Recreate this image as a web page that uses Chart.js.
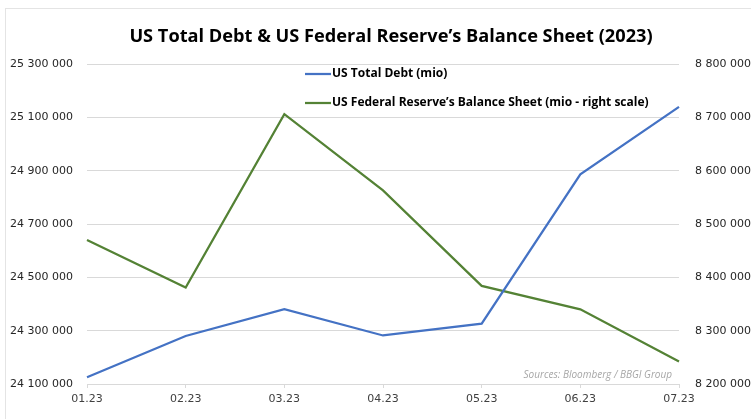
<!DOCTYPE html>
<html lang="en">
    <head>
        <meta charset="utf-8" />
        <title>US Total Debt & Fed Balance Sheet 2023</title>
        <style>
            html,
            body {
                margin: 0;
                padding: 0;
                background: #ffffff;
            }
            .wrap {
                position: relative;
                width: 751px;
                height: 419px;
                overflow: hidden;
            }
            .frame {
                position: absolute;
                left: 5px;
                top: 8px;
                right: -2px;
                bottom: -2px;
                border-left: 1px solid #e4e4e4;
                border-top: 1px solid #e4e4e4;
            }
            canvas {
                position: absolute;
                left: 0;
                top: 0;
            }
        </style>
    </head>
    <body>
        <div class="wrap">
            <div class="frame"></div>
            <canvas id="debtChart" width="751" height="419"></canvas>
        </div>

        <script src="https://cdn.jsdelivr.net/npm/chart.js"></script>
        <script>
            const months = ["01.23", "02.23", "03.23", "04.23", "05.23", "06.23", "07.23"];
            const totalDebt = [24125000, 24280000, 24381000, 24282000, 24326000, 24886000, 25139000];
            const fedBalance = [8470000, 8381000, 8706000, 8563000, 8384000, 8340000, 8242000];
            const leftTicks = [24100000, 25300000, 200000];
            const rightTicks = [8200000, 8800000, 100000];

            const titleText = "US Total Debt & US Federal Reserve\u2019s Balance Sheet (2023)";
            const sourceText = "Sources: Bloomberg / BBGI Group";

            const fmt = (v) =>
                Math.round(v).toString().replace(/\B(?=(\d{3})+(?!\d))/g, " ");

            const tickFont = { family: "DejaVu Sans", size: 11 };

            // title, in-plot legend and source note
            const overlay = {
                id: "overlay",
                afterDraw(chart) {
                    const ctx = chart.ctx;
                    ctx.save();
                    ctx.fillStyle = "#000000";
                    ctx.textBaseline = "middle";
                    ctx.textAlign = "center";
                    ctx.font = "bold 18.2px 'Open Sans'";
                    ctx.fillText(titleText, 391, 37);

                    ctx.textAlign = "left";
                    ctx.font = "bold 12px 'Open Sans'";
                    const rows = [74, 103];
                    chart.data.datasets.forEach((ds, i) => {
                        ctx.strokeStyle = ds.borderColor;
                        ctx.lineWidth = 2.25;
                        ctx.beginPath();
                        ctx.moveTo(305, rows[i]);
                        ctx.lineTo(331, rows[i]);
                        ctx.stroke();
                        ctx.fillStyle = "#000000";
                        ctx.fillText(ds.label, 332, rows[i]);
                    });

                    ctx.textAlign = "right";
                    ctx.font = "italic 10px 'Open Sans'";
                    ctx.fillStyle = "#a6a6a6";
                    ctx.fillText(sourceText, 672, 375);
                    ctx.restore();
                },
            };

            new Chart(document.getElementById("debtChart"), {
                type: "line",
                data: {
                    labels: months,
                    datasets: [
                        {
                            label: "US Total Debt (mio)",
                            data: totalDebt,
                            borderColor: "#4472c4",
                            backgroundColor: "#4472c4",
                            borderWidth: 2.25,
                            pointRadius: 0,
                            tension: 0,
                            yAxisID: "y",
                        },
                        {
                            label: "US Federal Reserve\u2019s Balance Sheet (mio - right scale)",
                            data: fedBalance,
                            borderColor: "#548235",
                            backgroundColor: "#548235",
                            borderWidth: 2.25,
                            pointRadius: 0,
                            tension: 0,
                            yAxisID: "y1",
                        },
                    ],
                },
                options: {
                    responsive: false,
                    animation: false,
                    devicePixelRatio: 1,
                    layout: { padding: { top: 64, left: 0, right: 0, bottom: 0 } },
                    plugins: {
                        legend: { display: false },
                        title: { display: false },
                        tooltip: { enabled: false },
                    },
                    scales: {
                        x: {
                            offset: false,
                            grid: {
                                drawOnChartArea: false,
                                color: "#d9d9d9",
                                tickLength: 4,
                            },
                            border: { color: "#d9d9d9" },
                            ticks: {
                                font: tickFont,
                                color: "#404040",
                                padding: 5,
                                maxRotation: 0,
                                autoSkip: false,
                            },
                            afterFit(scale) {
                                scale.height = 35;
                            },
                        },
                        y: {
                            position: "left",
                            min: leftTicks[0],
                            max: leftTicks[1],
                            grid: { color: "#d9d9d9", drawTicks: false },
                            border: { display: false },
                            ticks: {
                                stepSize: leftTicks[2],
                                font: tickFont,
                                color: "#262626",
                                padding: 14,
                                callback: fmt,
                            },
                            afterFit(scale) {
                                scale.width = 87;
                            },
                        },
                        y1: {
                            position: "right",
                            min: rightTicks[0],
                            max: rightTicks[1],
                            grid: { drawOnChartArea: false, drawTicks: false },
                            border: { display: false },
                            ticks: {
                                stepSize: rightTicks[2],
                                font: tickFont,
                                color: "#262626",
                                padding: 16,
                                callback: fmt,
                            },
                            afterFit(scale) {
                                scale.width = 72;
                            },
                        },
                    },
                },
                plugins: [overlay],
            });
        </script>
    </body>
</html>
